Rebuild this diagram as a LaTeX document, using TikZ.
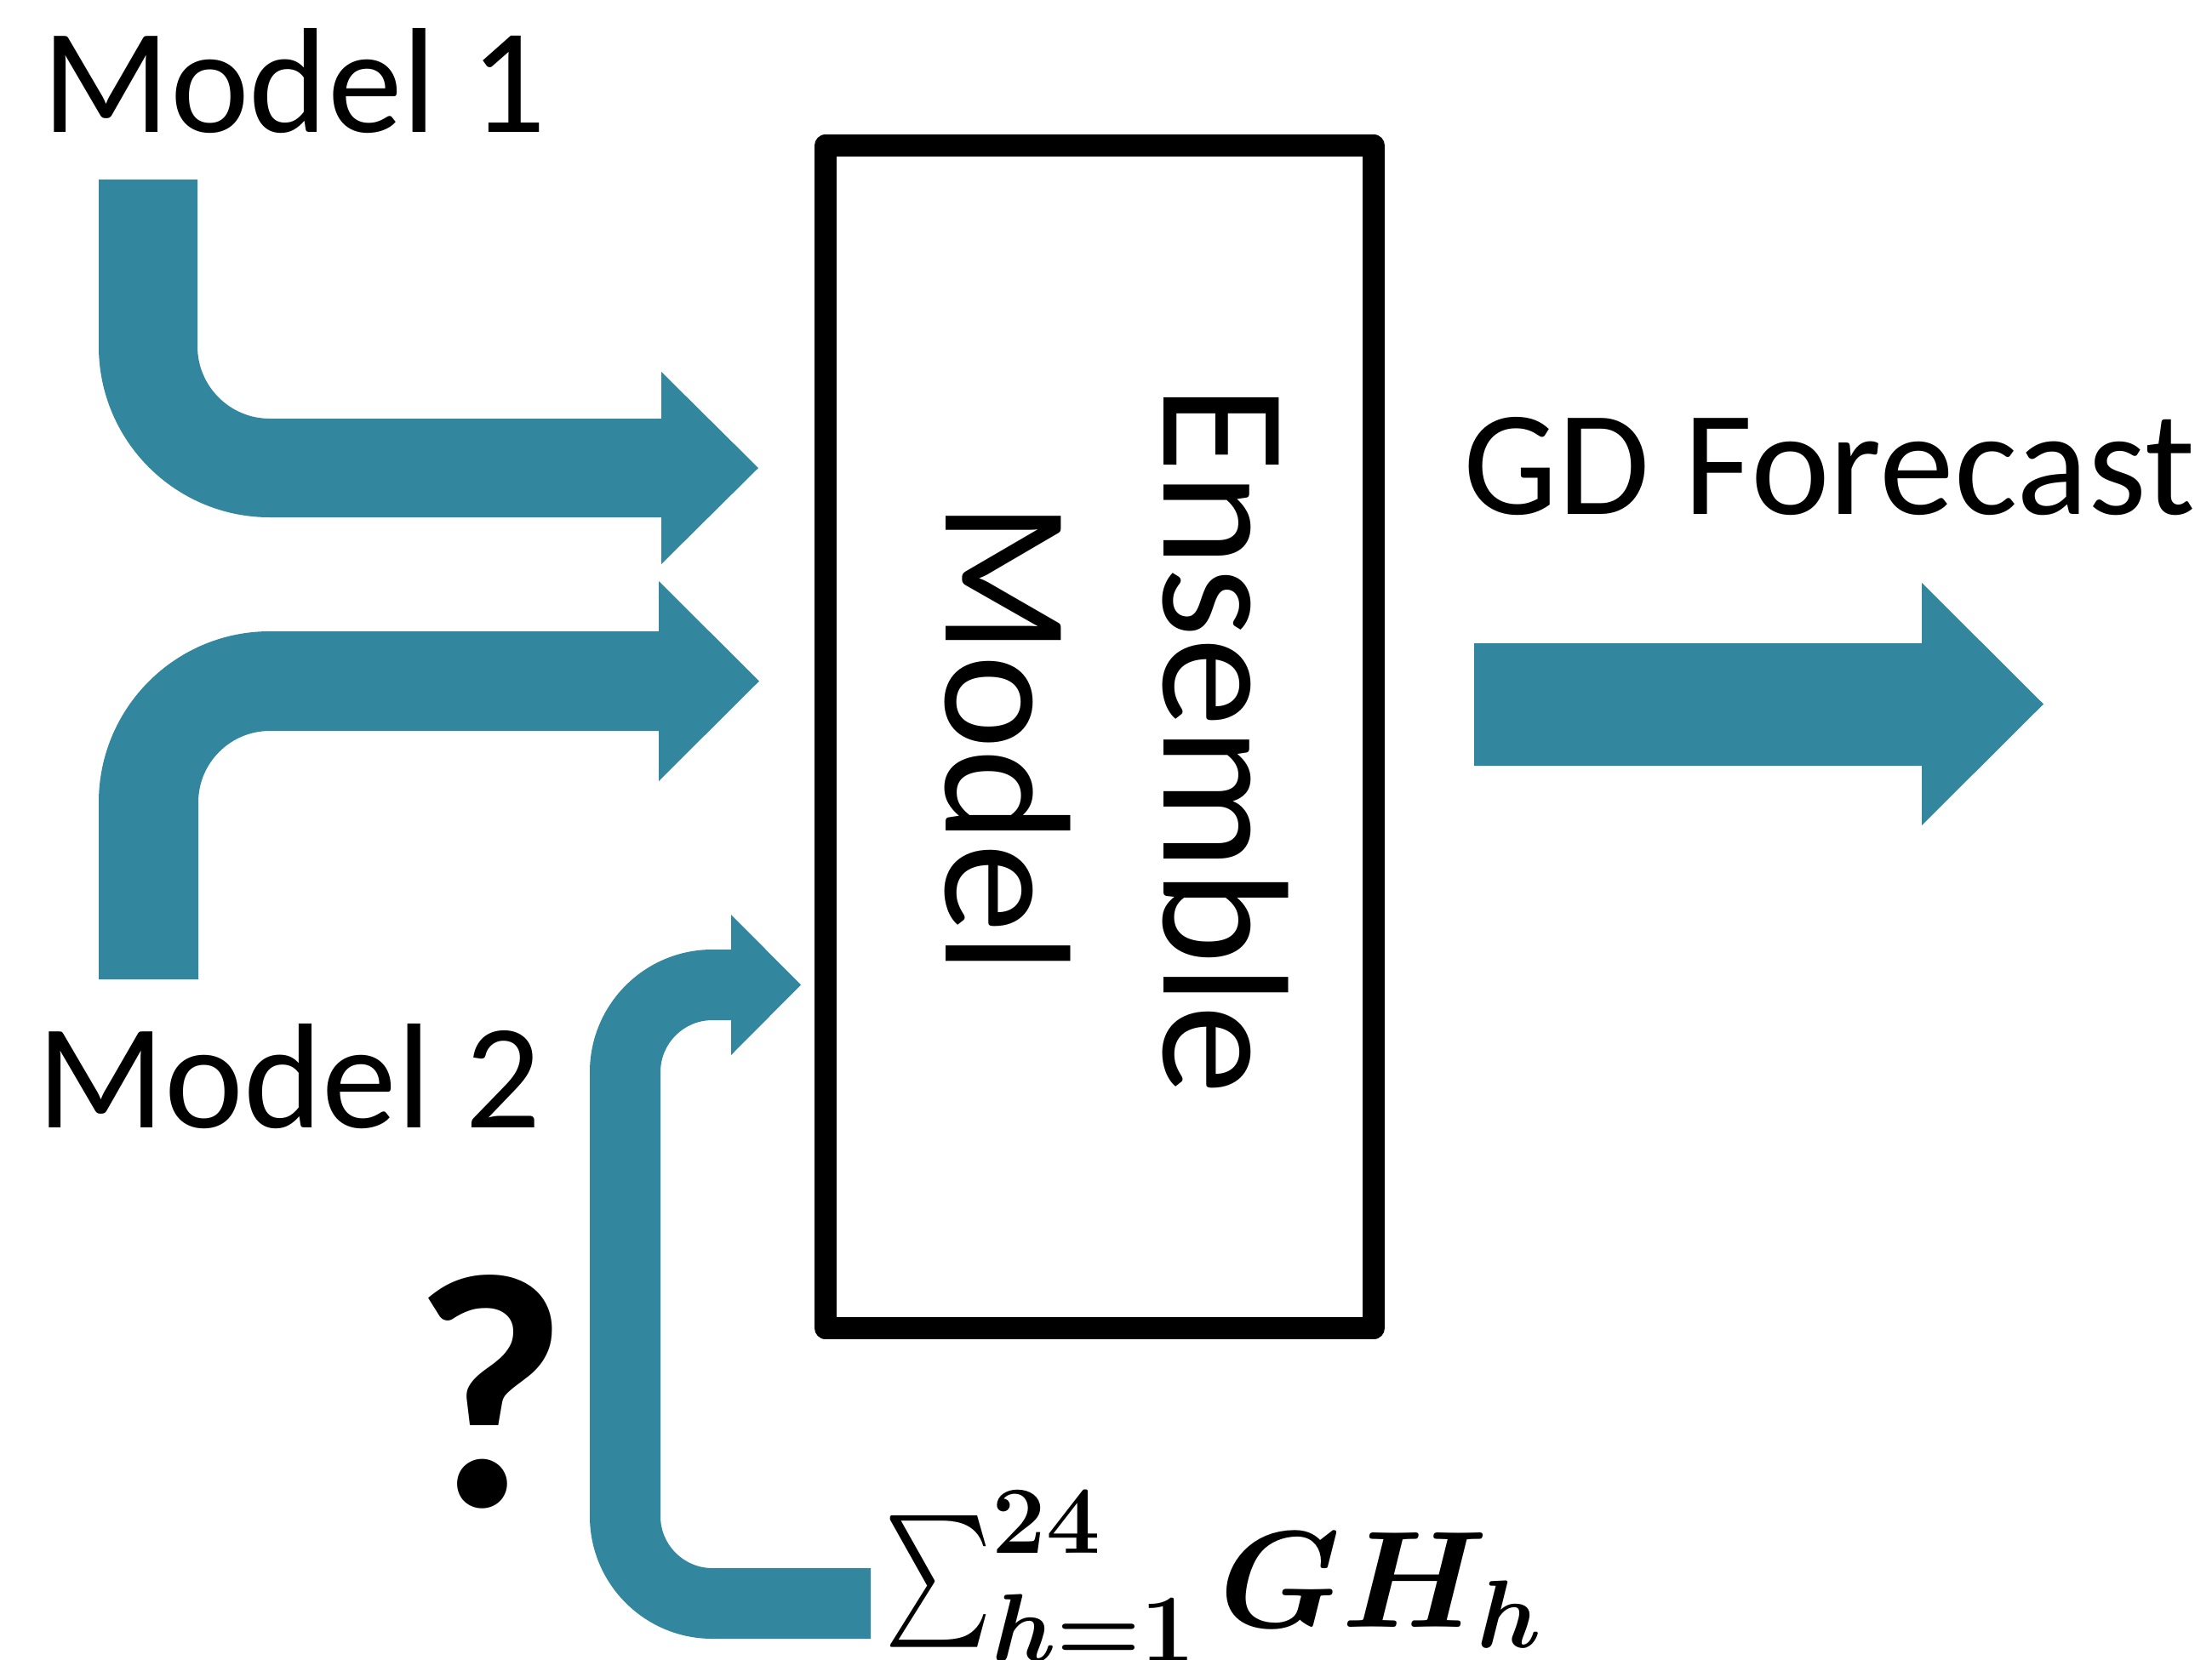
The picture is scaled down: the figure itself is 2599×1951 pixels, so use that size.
\RequirePackage{fix-cm}
\documentclass[tikz,border=0pt]{standalone}
\usepackage[no-math]{fontspec}
\usepackage{bm}
\usepackage{graphicx}
\setmainfont{Carlito}
\definecolor{arrowteal}{RGB}{50,134,158}
% a tall, narrow summation sign (sized explicitly, with trimmed height and depth)
% that takes its limits as scripts
\newcommand{\narrowsum}{\mathop{\raisebox{-1.25cm}[1.30cm][0.28cm]{\resizebox*{1.26cm}{2.55cm}{\raisebox{\depth}{$\textstyle\sum$}}}}\nolimits}
\tikzset{
  blockarrow/.style={fill=arrowteal, draw=none},
  tagtext/.style={font=\fontsize{50}{60}\selectfont, inner sep=0pt, anchor=base},
  boxtext/.style={font=\fontsize{60}{73}\selectfont, inner sep=0pt, anchor=base, rotate=-90},
  ensbox/.style={draw=black, line width=0.26cm, line join=round, inner sep=0pt,
                 minimum width=6.44cm, minimum height=13.885cm}
}
\begin{document}
\begin{tikzpicture}[x=0.01cm, y=-0.01cm]
\path[use as bounding box] (0,0) rectangle (2599,1951);
\clip (0,0) rectangle (2599,1951);
\fill[white] (0,0) rectangle (2599,1951);

% input arrow from Model 1 (down, then right)
\fill[blockarrow] (116,211) -- (232,211) -- (232,407)
  arc[start angle=180, end angle=90, radius=85] -- (777,492) -- (777,437)
  -- (891,550) -- (777,663) -- (777,608) -- (317,608)
  arc[start angle=90, end angle=180, radius=201] -- cycle;

% input arrow from Model 2 (up, then right)
\fill[blockarrow] (116,1151) -- (116,943)
  arc[start angle=180, end angle=270, radius=201] -- (774,742) -- (774,683)
  -- (892,800.5) -- (774,918) -- (774,859) -- (317,859)
  arc[start angle=270, end angle=180, radius=84] -- (233,1151) -- cycle;

% feedback arrow from the summed GH term
\fill[blockarrow] (1023,1843) -- (837,1843)
  arc[start angle=90, end angle=180, radius=61] -- (776,1260)
  arc[start angle=180, end angle=270, radius=61] -- (859,1199) -- (859,1240)
  -- (941,1157.5) -- (859,1075) -- (859,1116) -- (837,1116)
  arc[start angle=270, end angle=180, radius=144] -- (693,1782)
  arc[start angle=180, end angle=90, radius=144] -- (1023,1926) -- cycle;

% output arrow
\fill[blockarrow] (1732,756) -- (2258,756) -- (2258,685) -- (2401,827.5)
  -- (2258,970) -- (2258,900) -- (1732,900) -- cycle;

% ensemble model box
\node[ensbox] (ens) at (1292,866) {};
\node[boxtext] (ensA) at (1367,870) {Ensemble};
\node[boxtext] (ensB) at (1111,867) {Model};

% labels
\node[tagtext] (m1) at (346,155) {Model 1};
\node[tagtext] (m2) at (339.5,1325) {Model 2};
\node[tagtext] (gd) at (2149.5,604) {GD Forecast};
\node[font=\fontsize{112}{134}\selectfont\bfseries, inner sep=0pt, anchor=base] (q) at (576,1770) {?};
\node[font=\fontsize{46}{55}\selectfont, inner sep=0pt, anchor=base west] (gh) at (1039,1912)
  {$\narrowsum_{\bm{h=1}}^{\bm{24}}\bm{G}\bm{H}_{\bm{h}}$};
\end{tikzpicture}
\end{document}
